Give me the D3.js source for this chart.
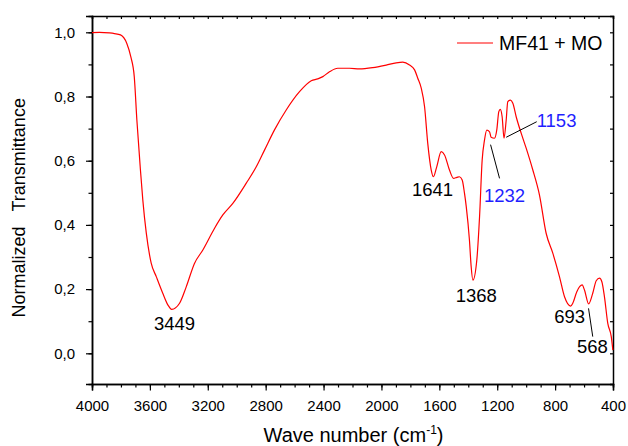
<!DOCTYPE html>
<html>
<head>
<meta charset="utf-8">
<script src="https://cdn.jsdelivr.net/npm/d3@7"></script>
<style>
  body { margin: 0; background: #fff; }
  svg text { font-family: Arial, "Liberation Sans", sans-serif; }
</style>
</head>
<body>
<svg width="628" height="446"></svg>
<script>
// FTIR spectrum
var waveNumber = [4000, 3948, 3879, 3845, 3803, 3760, 3732, 3708, 3690, 3667, 3649, 3625, 3591, 3556, 3511, 3476, 3449, 3395, 3349, 3292, 3234, 3154, 3096, 3027, 2934, 2865, 2808, 2739, 2658, 2566, 2485, 2440, 2405, 2359, 2302, 2221, 2152, 2060, 1967, 1898, 1852, 1806, 1771, 1749, 1725, 1702, 1680, 1656, 1641, 1618, 1587, 1564, 1530, 1502, 1479, 1461, 1442, 1426, 1414, 1392, 1380, 1368, 1341, 1322, 1304, 1288, 1272, 1253, 1242, 1219, 1203, 1189, 1179, 1166, 1153, 1138, 1127, 1108, 1092, 1069, 1034, 1000, 954, 908, 862, 816, 770, 735, 693, 678, 650, 613, 597, 568, 540, 516, 493, 477, 459, 436, 412, 401];
var transmittance = [0.999, 1.000, 0.998, 0.996, 0.992, 0.966, 0.924, 0.862, 0.727, 0.581, 0.478, 0.375, 0.281, 0.239, 0.187, 0.151, 0.137, 0.156, 0.207, 0.280, 0.322, 0.389, 0.431, 0.467, 0.530, 0.581, 0.633, 0.696, 0.758, 0.815, 0.849, 0.855, 0.862, 0.877, 0.888, 0.888, 0.886, 0.890, 0.898, 0.905, 0.907, 0.898, 0.883, 0.857, 0.826, 0.768, 0.654, 0.571, 0.550, 0.581, 0.628, 0.618, 0.571, 0.545, 0.548, 0.550, 0.540, 0.498, 0.457, 0.353, 0.270, 0.228, 0.291, 0.426, 0.602, 0.664, 0.695, 0.690, 0.673, 0.670, 0.696, 0.753, 0.760, 0.737, 0.670, 0.727, 0.784, 0.789, 0.779, 0.737, 0.685, 0.639, 0.571, 0.493, 0.374, 0.312, 0.239, 0.176, 0.147, 0.156, 0.192, 0.213, 0.197, 0.154, 0.187, 0.226, 0.234, 0.223, 0.176, 0.093, 0.052, 0.010];

var xTicks = [4000, 3600, 3200, 2800, 2400, 2000, 1600, 1200, 800, 400];
var yTicks = [0, 0.2, 0.4, 0.6, 0.8, 1.0];

// peak labels: text, label x/y in data units, colour, optional leader line
var peakLabels = ["3449", "1641", "1368", "1232", "1153", "693", "568"];
var labelWn    = [3430, 1647, 1345, 1150, 790, 700, 542];
var labelT     = [0.073, 0.490, 0.161, 0.472, 0.706, 0.095, 0.0];
var labelColor = ["#000", "#000", "#000", "#1f1fff", "#1f1fff", "#000", "#000"];
var leaders = [
  {label: "1232", x1: 1246, y1: 0.650, x2: 1184, y2: 0.545},
  {label: "1153", x1: 1138, y1: 0.673, x2: 927, y2: 0.7215},
  {label: "568", x1: 569, y1: 0.140, x2: 540, y2: 0.052}
];

var margin = {top: 16, right: 15, bottom: 62, left: 92},
    width = 521,
    height = 368;

var svg = d3.select("svg").append("g")
    .attr("transform", "translate(" + margin.left + "," + margin.top + ")");

var x = d3.scaleLinear().domain([4000, 400]).range([0, width]);
var y = d3.scaleLinear().domain([-0.0956, 1.0508]).range([height, 0]);

var fmt = function(d) { return d3.format(".1f")(d).replace(".", ","); };

// minor ticks first
svg.append("g")
    .attr("transform", "translate(0," + height + ")")
    .call(d3.axisBottom(x).tickValues(d3.range(400, 4001, 100)).tickSize(3.5).tickFormat(""));
svg.append("g")
    .call(d3.axisLeft(y).tickValues(d3.range(0, 1.01, 0.1)).tickSize(3.5).tickFormat(""));
svg.append("g")
    .call(d3.axisTop(x).tickValues(d3.range(400, 4001, 100)).tickSize(-3).tickFormat(""));
svg.append("g")
    .attr("transform", "translate(" + width + ",0)")
    .call(d3.axisRight(y).tickValues(d3.range(0, 1.01, 0.1)).tickSize(-3).tickFormat(""));

// major axes
svg.append("g")
    .attr("class", "xaxis")
    .attr("transform", "translate(0," + height + ")")
    .call(d3.axisBottom(x).tickValues(xTicks).tickSize(6.5).tickPadding(10).tickFormat(d3.format("d")));

svg.append("g")
    .attr("class", "yaxis")
    .call(d3.axisLeft(y).tickValues(yTicks).tickSize(6).tickPadding(11).tickFormat(fmt));

svg.selectAll(".domain").attr("stroke", "#000").attr("stroke-width", 1.5);
svg.selectAll(".tick line").attr("stroke", "#000").attr("stroke-width", 1.2);
svg.selectAll(".tick text").attr("font-size", 15).attr("fill", "#000")
    .attr("font-family", "Arial, 'Liberation Sans', sans-serif");

var line = d3.line()
    .x(function(d, i) { return x(waveNumber[i]); })
    .y(function(d) { return y(d); })
    .curve(d3.curveMonotoneX);

svg.append("path")
    .attr("fill", "none")
    .attr("stroke", "#ff0000")
    .attr("stroke-width", 1.2)
    .attr("stroke-linejoin", "round")
    .attr("d", line(transmittance));

// leader lines
svg.selectAll(".leader")
    .data(leaders)
  .enter().append("line")
    .attr("class", "leader")
    .attr("x1", function(d) { return x(d.x1); })
    .attr("y1", function(d) { return y(d.y1); })
    .attr("x2", function(d) { return x(d.x2); })
    .attr("y2", function(d) { return y(d.y2); })
    .attr("stroke", "#000")
    .attr("stroke-width", 1);

svg.selectAll(".peak")
    .data(peakLabels)
  .enter().append("text")
    .attr("class", "peak")
    .attr("x", function(d, i) { return x(labelWn[i]); })
    .attr("y", function(d, i) { return y(labelT[i]); })
    .attr("text-anchor", "middle")
    .attr("font-size", 18.5)
    .attr("fill", function(d, i) { return labelColor[i]; })
    .text(function(d) { return d; });

// legend
svg.append("line")
    .attr("x1", 365).attr("x2", 401)
    .attr("y1", 27).attr("y2", 27)
    .attr("stroke", "#ff0000").attr("stroke-width", 1.2);
svg.append("text")
    .attr("x", 407).attr("y", 33.5)
    .attr("font-size", 19.5)
    .text("MF41 + MO");

// axis titles
var xt = svg.append("text")
    .attr("x", width / 2 + 1)
    .attr("y", height + 58)
    .attr("text-anchor", "middle")
    .attr("font-size", 20);
xt.append("tspan").text("Wave number (cm");
xt.append("tspan").attr("font-size", 12).attr("dy", -8).text("-1");
xt.append("tspan").attr("dy", 8).text(")");

svg.append("text")
    .attr("transform", "translate(-67," + (y(0.5) + 15) + ") rotate(-90)")
    .attr("text-anchor", "middle")
    .attr("font-size", 18)
    .text("Normalized\u00A0\u00A0\u00A0Transmittance");
</script>
</body>
</html>
